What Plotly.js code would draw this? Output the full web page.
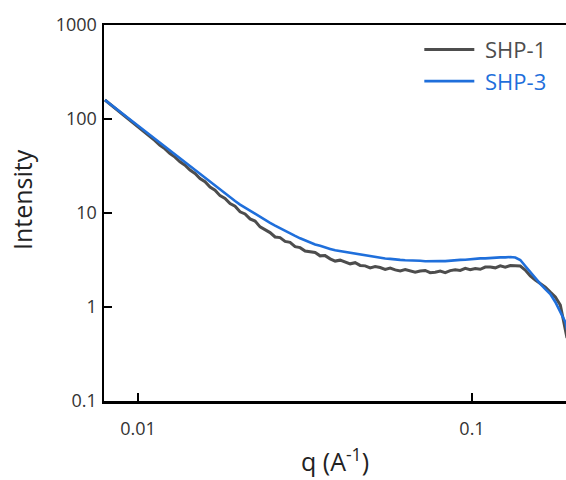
<!DOCTYPE html>
<html>
<head>
<meta charset="utf-8">
<script src="https://cdn.plot.ly/plotly-3.0.1.min.js"></script>
<style>
  html, body { margin: 0; padding: 0; background: #fff; }
  #chart { width: 566px; height: 480px; }
</style>
</head>
<body>
<div id="chart"></div>
<script>
// Scattering vector q (Å^-1), shared by both samples
const q = [
  0.007961, 0.008240, 0.008530, 0.008829, 0.009139, 0.009460, 0.009792, 0.010136, 0.010492, 0.010860,
  0.011241, 0.011636, 0.012044, 0.012467, 0.012905, 0.013358, 0.013827, 0.014312, 0.014814, 0.015334,
  0.015872, 0.016429, 0.017006, 0.017603, 0.018221, 0.018861, 0.019523, 0.020208, 0.020917, 0.021651,
  0.022411, 0.023198, 0.024012, 0.024855, 0.025727, 0.026630, 0.027565, 0.028533, 0.029535, 0.030572,
  0.031645, 0.032756, 0.033906, 0.035096, 0.036328, 0.037603, 0.038923, 0.040289, 0.041703, 0.043167,
  0.044682, 0.046250, 0.047873, 0.049553, 0.051292, 0.053092, 0.054955, 0.056884, 0.058881, 0.060948,
  0.063087, 0.065301, 0.067593, 0.069965, 0.072421, 0.074963, 0.077594, 0.080317, 0.083136, 0.086054,
  0.089074, 0.092201, 0.095437, 0.098787, 0.102254, 0.105843, 0.109558, 0.113403, 0.117384, 0.121504,
  0.125768, 0.130183, 0.134752, 0.139481, 0.144377, 0.149444, 0.154690, 0.160119, 0.165739, 0.171556,
  0.177578, 0.183810, 0.190262, 0.192500
];

// Scattered intensity, SHP-1
const shp1 = [
  159.3, 144.4, 130.9, 118.7, 107.4, 97.0, 87.6, 79.2, 71.7, 64.7,
  59.0, 52.5, 48.2, 42.9, 39.3, 35.0, 32.2, 28.6, 26.3, 23.3,
  21.5, 18.9, 17.5, 15.3, 14.3, 12.6, 11.8, 10.3, 9.77, 8.65,
  8.21, 7.12, 6.68, 6.19, 5.56, 5.47, 4.99, 4.88, 4.39, 4.28,
  3.94, 3.89, 3.80, 3.50, 3.52, 3.25, 3.08, 3.15, 3.04, 2.88,
  2.96, 2.77, 2.74, 2.60, 2.69, 2.63, 2.51, 2.60, 2.48, 2.42,
  2.50, 2.43, 2.34, 2.41, 2.45, 2.32, 2.34, 2.41, 2.32, 2.44,
  2.49, 2.45, 2.58, 2.49, 2.57, 2.52, 2.66, 2.66, 2.61, 2.74,
  2.65, 2.76, 2.73, 2.73, 2.47, 2.14, 1.94, 1.76, 1.63, 1.44,
  1.28, 1.05, 0.598, 0.468
];

// Scattered intensity, SHP-3
const shp3 = [
  159.3, 144.8, 131.9, 119.9, 109.0, 99.0, 90.2, 82.0, 74.5, 67.7,
  61.7, 56.1, 51.0, 46.3, 42.2, 38.4, 34.8, 31.6, 28.7, 26.0,
  23.6, 21.4, 19.4, 17.6, 16.0, 14.6, 13.4, 12.3, 11.4, 10.5,
  9.76, 9.07, 8.45, 7.87, 7.35, 6.87, 6.45, 6.05, 5.71, 5.38,
  5.11, 4.88, 4.63, 4.47, 4.28, 4.15, 4.01, 3.93, 3.80, 3.75,
  3.65, 3.59, 3.50, 3.45, 3.38, 3.35, 3.28, 3.25, 3.19, 3.17,
  3.14, 3.14, 3.10, 3.10, 3.07, 3.09, 3.07, 3.08, 3.08, 3.12,
  3.13, 3.17, 3.18, 3.23, 3.24, 3.29, 3.29, 3.33, 3.33, 3.37,
  3.37, 3.40, 3.36, 3.16, 2.73, 2.36, 1.99, 1.76, 1.55, 1.37,
  1.13, 0.885, 0.693, 0.569
];

const seriesNames = ['SHP-1', 'SHP-3'];
const seriesColors = ['#4d4d4d', '#1f6fdb'];
const seriesWidths = [3, 2.6];

const yTickVals = [0.1, 1, 10, 100, 1000];
const yTickText = ['0.1', '1', '10', '100', '1000'];
const xTickVals = [0.01, 0.1];
const xTickText = ['0.01', '0.1'];

const FONT = '"Open Sans", "Segoe UI", sans-serif';

const traces = [shp1, shp3].map((ys, i) => ({
  type: 'scatter',
  mode: 'lines',
  x: q,
  y: ys,
  name: '<span style="color:' + seriesColors[i] + '">&nbsp;' + seriesNames[i] + '</span>',
  legendgroup: 'g' + i,
  line: { color: seriesColors[i], width: seriesWidths[i] },
  hoverinfo: 'skip'
}));

const layout = {
  width: 566,
  height: 480,
  margin: { l: 104, r: 0, t: 25, b: 79, pad: 0 },
  paper_bgcolor: '#ffffff',
  plot_bgcolor: '#ffffff',
  font: { family: FONT, color: '#333333', size: 18 },
  showlegend: true,
  legend: {
    x: 0.6825, xanchor: 'left',
    y: 0.99, yanchor: 'top',
    bgcolor: 'rgba(0,0,0,0)',
    borderwidth: 0,
    itemwidth: 50,
    tracegroupgap: 0,
    font: { family: FONT, size: 22, color: '#4d4d4d' }
  },
  xaxis: {
    type: 'log',
    range: [-2.1018, -0.7186],
    tickmode: 'array',
    tickvals: xTickVals,
    ticktext: xTickText,
    ticks: 'inside',
    ticklen: 8,
    tickwidth: 2,
    tickcolor: '#000',
    showline: true,
    linecolor: '#000',
    linewidth: 2.5,
    mirror: true,
    showgrid: false,
    zeroline: false,
    tickfont: { family: FONT, size: 18, color: '#333' },
    ticklabelstandoff: 10,
    title: { text: 'q (A<sup>-1</sup>)', font: { family: FONT, size: 25, color: '#222' }, standoff: 15 }
  },
  yaxis: {
    type: 'log',
    range: [-1, 3],
    tickmode: 'array',
    tickvals: yTickVals,
    ticktext: yTickText,
    ticks: 'inside',
    ticklen: 8,
    tickwidth: 2,
    tickcolor: '#000',
    showline: true,
    linecolor: '#000',
    linewidth: 2.5,
    showgrid: false,
    zeroline: false,
    tickfont: { family: FONT, size: 18, color: '#333' },
    ticklabelstandoff: 1
  },
  annotations: [{
    text: 'Intensity',
    xref: 'paper', yref: 'paper',
    x: -0.177, y: 0.535,
    xanchor: 'center', yanchor: 'middle',
    textangle: -90,
    showarrow: false,
    font: { family: FONT, size: 25, color: '#222' }
  }]
};

Plotly.newPlot('chart', traces, layout, { displayModeBar: false, staticPlot: true });
</script>
</body>
</html>
